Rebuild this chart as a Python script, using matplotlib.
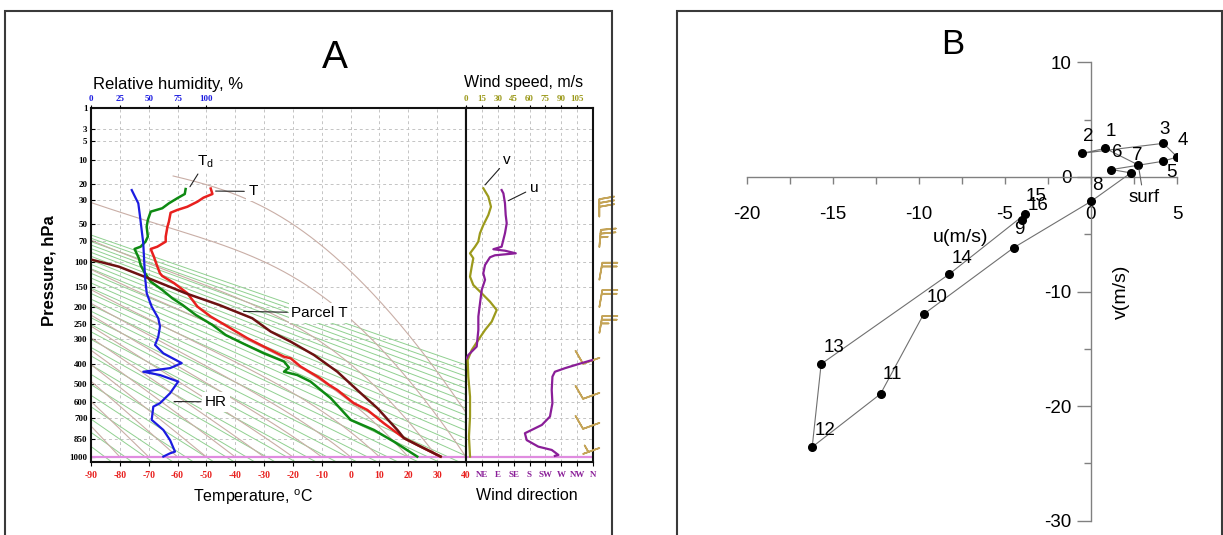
import numpy as np
import matplotlib
matplotlib.use('Agg')
import matplotlib.pyplot as plt
from matplotlib.patches import Rectangle
from matplotlib.ticker import FixedLocator, NullLocator

plt.rcParams['font.family'] = ['Liberation Sans', 'DejaVu Sans']
plt.rcParams['mathtext.fontset'] = 'custom'
plt.rcParams['mathtext.rm'] = 'Liberation Sans'
plt.rcParams['mathtext.it'] = 'Liberation Sans:italic'
plt.rcParams['axes.unicode_minus'] = False

# ------------------------- Panel A data -------------------------
p_ticks = [1, 3, 5, 10, 20, 30, 50, 70, 100, 150, 200, 250, 300, 400, 500, 600, 700, 850, 1000]
t_ticks = list(range(-90, 41, 10))
rh_ticks = [0, 25, 50, 75, 100]
ws_ticks = [0, 15, 30, 45, 60, 75, 90, 105]
wd_ticks = [45, 90, 135, 180, 225, 270, 315, 360]
wd_labels = ['NE', 'E', 'SE', 'S', 'SW', 'W', 'NW', 'N']

temp_p = [22.4, 25.7, 28.1, 30.9, 34.7, 37.3, 39.6, 47.9, 53.0, 64.3, 70.6, 77.4, 80.6, 92.2,
          105.9, 121, 126.3, 141, 163.7, 197.7, 226, 263, 297.5, 329, 370, 377, 414, 466, 504,
          532, 608, 650, 738, 847, 914, 997]
temp_t = [-48.5, -47.9, -51.0, -53.1, -56.6, -60.1, -62.4, -63.0, -63.5, -64.1, -64.1, -67.0,
          -69.3, -68.2, -67.2, -66.1, -65.3, -61.2, -56.6, -53.1, -48.5, -41.6, -35.8, -30.1,
          -23.1, -20.8, -17.3, -11.0, -7.5, -4.6, 1.1, 5.8, 11.5, 18.5, 24.3, 31.2]

dew_p = [22.7, 25.7, 28.5, 32.1, 35.9, 38.7, 46.2, 53.0, 64.3, 70.6, 77.4, 80.6, 87.0, 94.7,
         105.9, 118, 137.8, 156, 176, 193, 221, 252, 286, 316, 356, 391, 418, 438, 454, 487,
         578, 715, 786, 874, 997]
dew_t = [-57.2, -57.5, -60.1, -63.0, -65.3, -69.3, -70.3, -70.7, -70.3, -71.1, -72.8, -74.9,
         -74.2, -73.4, -72.8, -71.6, -69.3, -65.3, -61.8, -58.3, -53.7, -47.9, -43.3, -37.5,
         -30.1, -23.1, -21.4, -23.1, -18.5, -13.9, -6.9, 0.0, 8.1, 15.0, 23.1]

parcel_p = [97.5, 108.9, 134, 163.7, 193, 231, 274, 310, 363, 438, 532, 639, 786, 847, 900, 997]
parcel_t = [-89.4, -80.3, -68.7, -57.2, -45.6, -34.1, -27.7, -20.8, -12.7, -4.6, 2.3, 9.3,
            16.2, 18.5, 23.1, 31.2]

rh_p = [23.3, 27.4, 32.1, 43.1, 56.6, 72.8, 92.2, 127.6, 163.7, 197.7, 231, 257, 292, 323, 356,
        398, 421, 438, 454, 487, 550, 608, 629, 715, 786, 862, 955, 969, 997]
rh_v = [35.3, 38.1, 41.0, 42.5, 43.9, 45.3, 45.9, 46.8, 48.3, 52.6, 58.3, 59.8, 58.3, 55.5,
        62.7, 78.6, 68.5, 45.3, 59.8, 75.6, 68.5, 59.8, 54.0, 52.6, 62.7, 68.5, 72.8, 68.5, 62.7]

wspd_p = [22.3, 27.4, 34.7, 41.6, 51.2, 60.3, 70.6, 77.4, 87.0, 94.7, 108.9, 127.6, 145, 163.7,
          184.6, 207, 241.5, 268.5, 304, 342.5, 384, 462, 569, 693, 836, 997]
wspd = [16.4, 21.1, 23.6, 21.1, 16.4, 13.2, 11.6, 8.5, 3.8, 6.9, 5.4, 3.8, 6.9, 14.8, 22.7,
        29.0, 24.3, 18.0, 11.6, 5.4, 1.6, 2.2, 3.8, 3.8, 2.8, 3.8]

wdir_up_p = [23.3, 25.3, 32.1, 41.6, 49.5, 60.3, 68.5, 77.4, 81.0, 83.1, 87.0, 90.0, 93.1,
             105.9, 121, 134, 156, 188.7, 226, 268.5, 329, 363, 377]
wdir_up = [101, 106, 110.5, 112.5, 115.4, 110.5, 105.7, 101, 77.5, 110.5, 141, 82, 68, 54, 49,
           54, 44.5, 39.7, 35, 35, 30.3, 6.5, 2]
wdir_lo_p = [384, 398, 421, 438, 462, 532, 608, 693, 750, 786, 810, 862, 914, 941, 983, 991]
wdir_lo = [359, 328, 281, 252, 245, 243, 245, 238, 215, 186, 167, 172, 205, 243, 262, 252]

barb_p = [43, 78, 134, 199, 279, 375, 548, 736, 925]
barb_spd = [30, 25, 20, 20, 25, 10, 10, 10, 5]
barb_dir = [0, 5, 10, 10, 10, 250, 250, 250, 250]

# ------------------------- Panel B data -------------------------
hodo_lab = ['surf', '1', '2', '3', '4', '5', '6', '7', '8', '9', '10', '11', '12', '13', '14', '15', '16']
hodo_u = [2.75, 0.83, -0.50, 4.21, 5.01, 4.17, 1.19, 2.32, 0.0, -4.48, -9.73, -12.23, -16.2,
          -15.68, -8.26, -3.82, -4.02]
hodo_v = [1.04, 2.49, 2.06, 2.93, 1.74, 1.36, 0.64, 0.35, -2.14, -6.17, -11.99, -18.94, -23.57,
          -16.33, -8.51, -3.24, -3.76]

# ------------------------- figure -------------------------
W, H = 1223, 535
fig = plt.figure(figsize=(W / 100, H / 100), dpi=100)

def fx(px):
    return px / W

def fy(py):
    return 1 - py / H

def box(x0, y0, x1, y1):
    return [fx(x0), fy(y1), fx(x1) - fx(x0), fy(y0) - fy(y1)]

KAP = 0.286
fwd = lambda p: np.power(np.clip(p, 1e-9, None), KAP)
inv = lambda y: np.power(np.clip(y, 1e-9, None), 1 / KAP)

RED = '#e8201e'
BLUE = '#1c1ce0'
OLIVE = '#9c9a1c'
PURP = '#8a1e98'

def serif_labels(labels):
    for lb in labels:
        lb.set_fontfamily('Liberation Serif')
        lb.set_fontweight('bold')

ax_T = fig.add_axes(box(91, 108, 466, 461.5))
ax_T.set_yscale('function', functions=(fwd, inv))
ax_T.set_ylim(1040, 1)
ax_T.set_xlim(-90, 40)

ax_W = fig.add_axes(box(466, 108, 593, 461.5), sharey=ax_T)
ax_W.set_xlim(0, 120)

ax_RH = ax_T.twiny()
ax_D = ax_W.twiny()

for ax in (ax_T, ax_W):
    ax.set_axisbelow(True)
    ax.grid(True, color='#c4c4c4', linestyle=(0, (3, 3)), linewidth=0.7)
    ax.yaxis.set_minor_locator(NullLocator())
    for s in ax.spines.values():
        s.set_linewidth(1.5)
        s.set_color('#111111')

ax_T.set_yticks(p_ticks)
ax_T.set_yticklabels([str(v) for v in p_ticks])
ax_T.tick_params(axis='y', direction='in', length=3, pad=2.5, labelsize=6.5)
serif_labels(ax_T.get_yticklabels())

ax_T.set_xticks(t_ticks)
ax_T.set_xticklabels([str(v) for v in t_ticks])
ax_T.tick_params(axis='x', direction='out', length=3, pad=3.5, labelsize=7, labelcolor=RED,
                 bottom=True, labelbottom=True, top=False, labeltop=False)
serif_labels(ax_T.get_xticklabels())

ax_RH.set_xlim(0, 325)
ax_RH.set_xticks(rh_ticks)
ax_RH.set_xticklabels([str(v) for v in rh_ticks])
ax_RH.tick_params(axis='x', direction='out', length=2, pad=1.5, labelsize=6.5, labelcolor=BLUE,
                  bottom=False, labelbottom=False, top=True, labeltop=True)
serif_labels(ax_RH.get_xticklabels())
for s in ax_RH.spines.values():
    s.set_visible(False)

ax_W.set_xticks(ws_ticks)
ax_W.set_xticklabels([str(v) for v in ws_ticks])
ax_W.tick_params(axis='x', direction='out', length=2, pad=1.5, labelsize=6.5, labelcolor=OLIVE,
                 top=True, labeltop=True, bottom=False, labelbottom=False)
serif_labels(ax_W.get_xticklabels())
ax_W.tick_params(axis='y', left=False, labelleft=False)

ax_D.set_xlim(0, 360)
ax_D.set_xticks(wd_ticks)
ax_D.set_xticklabels(wd_labels)
ax_D.tick_params(axis='x', direction='out', length=3, pad=3.5, labelsize=6.5, labelcolor=PURP,
                 top=False, labeltop=False, bottom=True, labelbottom=True)
serif_labels(ax_D.get_xticklabels())
for s in ax_D.spines.values():
    s.set_visible(False)

# ---- thermodynamic background ----
pp = np.geomspace(1040, 1, 400)
for th in np.arange(181, 406, 7):
    ax_T.plot(th * (pp / 1000.0) ** KAP - 273.15, pp, color='#90d090', lw=0.7, zorder=1)

def t_std(p):
    return np.where(p >= 226.32, 288.15 * (p / 1013.25) ** 0.19026, 216.65)

def moist_adiabat(t0c, plev):
    Rd, Cp, Lv, eps = 287.04, 1005.7, 2.501e6, 0.622
    def f(T, p):
        es = 6.112 * np.exp(17.67 * (T - 273.15) / (T - 29.65))
        rs = eps * es / np.maximum(p - es, 1e-3)
        g = (Rd * T + Lv * rs) / (Cp + Lv ** 2 * rs * eps / (Rd * T ** 2)) / p
        return g * min(1.0, T / float(t_std(p)))
    T = t0c + 273.15
    out = [T]
    for i in range(1, len(plev)):
        p0, p1 = plev[i - 1], plev[i]
        h = p1 - p0
        k1 = f(T, p0); k2 = f(T + h / 2 * k1, p0 + h / 2)
        k3 = f(T + h / 2 * k2, p0 + h / 2); k4 = f(T + h * k3, p1)
        T = T + h / 6 * (k1 + 2 * k2 + 2 * k3 + k4)
        out.append(T)
    return np.array(out) - 273.15

pm = np.geomspace(1000, 16, 400)
for tw in range(-80, 51, 10):
    ax_T.plot(moist_adiabat(tw, pm), pm, color='#c9aea6', lw=0.8, zorder=1.2)

for ax in (ax_T, ax_W):
    ax.axhline(1000, color='#e08ce0', lw=1.6, zorder=2)

# ---- soundings ----
ax_RH.plot(rh_v, rh_p, color=BLUE, lw=1.6, zorder=4)
ax_T.plot(dew_t, dew_p, color='#0e8a12', lw=1.8, zorder=4)
ax_T.plot(temp_t, temp_p, color=RED, lw=1.8, zorder=4)
ax_T.plot(parcel_t, parcel_p, color='#6e1212', lw=1.8, zorder=5)
ax_W.plot(wspd, wspd_p, color=OLIVE, lw=1.6, zorder=4)
ax_D.plot(wdir_up, wdir_up_p, color=PURP, lw=1.6, zorder=4)
ax_D.plot(wdir_lo, wdir_lo_p, color=PURP, lw=1.6, zorder=4)
ax_RH.set_zorder(ax_T.get_zorder() + 0.1)
ax_RH.patch.set_visible(False)

bd = np.radians(barb_dir)
bu = -np.array(barb_spd) * np.sin(bd)
bv = -np.array(barb_spd) * np.cos(bd)
ax_W.barbs(np.full(len(barb_p), 126.0), barb_p, bu, bv, length=5,
           sizes=dict(spacing=0.22, height=0.85, width=0.3), color='#c4a458',
           linewidth=1.2, clip_on=False, zorder=6)

# ---- annotations ----
wbox = dict(facecolor='white', edgecolor='none', pad=2)
lead = dict(arrowstyle='-', color='#222222', lw=0.8, shrinkA=1, shrinkB=0)
ax_T.annotate('T$_{\\rm d}$', xy=(-55.7, 21.4), xytext=(-50.3, 10.5), fontsize=11,
              ha='center', va='center', bbox=wbox, arrowprops=lead, zorder=8)
ax_T.annotate('T', xy=(-46.8, 23.9), xytext=(-33.8, 24.1), fontsize=11,
              ha='center', va='center', bbox=wbox, arrowprops=lead, zorder=8)
ax_T.annotate('Parcel T', xy=(-37.1, 211), xytext=(-10.7, 215), fontsize=11,
              ha='center', va='center', bbox=wbox, arrowprops=lead, zorder=8)
ax_T.annotate('HR', xy=(-61.2, 598), xytext=(-46.6, 600), fontsize=11,
              ha='center', va='center', bbox=wbox, arrowprops=lead, zorder=8)
ax_W.annotate('v', xy=(18, 20.4), xytext=(38.8, 9.9), fontsize=11,
              ha='center', va='center', bbox=wbox, arrowprops=lead, zorder=8)
ax_W.annotate('u', xy=(40, 30.2), xytext=(64.3, 22.1), fontsize=11,
              ha='center', va='center', bbox=wbox, arrowprops=lead, zorder=8)

fig.text(fx(168), fy(85), 'Relative humidity, %', fontsize=12, ha='center', va='center')
fig.text(fx(524), fy(83), 'Wind speed, m/s', fontsize=11.5, ha='center', va='center')
fig.text(fx(49), fy(271), 'Pressure, hPa', fontsize=12, fontweight='bold', rotation=90,
         ha='center', va='center')
fig.text(fx(253), fy(497), 'Temperature, $^{\\rm o}$C', fontsize=11.5, ha='center', va='center')
fig.text(fx(527), fy(496), 'Wind direction', fontsize=11.5, ha='center', va='center')
fig.text(fx(335), fy(58), 'A', fontsize=28, ha='center', va='center')

# ------------------------- Panel B -------------------------
ax_B = fig.add_axes(box(746.8, 62.3, 1177, 520.7))
ax_B.set_xlim(-20, 5)
ax_B.set_ylim(-30, 10)
ax_B.patch.set_visible(False)
GR = '#808080'
for side in ('top', 'right'):
    ax_B.spines[side].set_visible(False)
for side in ('left', 'bottom'):
    ax_B.spines[side].set_position(('data', 0))
    ax_B.spines[side].set_color(GR)
    ax_B.spines[side].set_linewidth(1.0)
ax_B.set_xticks([-20, -15, -10, -5, 0, 5])
ax_B.xaxis.set_minor_locator(FixedLocator([-17.5, -12.5, -7.5, -2.5, 2.5]))
ax_B.set_yticks([10, 0, -10, -20, -30])
ax_B.yaxis.set_minor_locator(FixedLocator([5, -5, -15, -25]))
ax_B.tick_params(axis='x', which='both', direction='out', length=5, width=1, color=GR,
                 labelsize=13.5, pad=16)
ax_B.tick_params(axis='y', which='major', direction='out', length=10, width=1, color=GR,
                 labelsize=13.5, pad=4)
ax_B.tick_params(axis='y', which='minor', direction='out', length=5, width=1, color=GR)

ax_B.plot(hodo_u, hodo_v, color='#707070', lw=0.8, marker='o', ms=5.5, mfc='black',
          mec='black', zorder=3)

lab_off = {'1': (5.5, 17), '2': (6, 17), '3': (1, 14), '4': (6, 16), '5': (9, -11),
           '6': (6, 17), '7': (6, 17), '8': (6, 16), '9': (5, 18), '10': (14, 17),
           '11': (12, 19), '12': (13, 17), '13': (13, 17), '14': (13, 16), '15': (11, 18),
           '16': (16, 14)}
for lab, u, v in zip(hodo_lab, hodo_u, hodo_v):
    if lab == 'surf':
        ax_B.annotate(lab, xy=(u, v), xytext=(5.4, -32.6), textcoords='offset pixels',
                      fontsize=13.5, ha='center', va='center',
                      arrowprops=dict(arrowstyle='-', color='#606060', lw=0.8,
                                      shrinkA=1, shrinkB=3), zorder=4)
    else:
        ax_B.annotate(lab, xy=(u, v), xytext=lab_off[lab], textcoords='offset pixels',
                      fontsize=13.5, ha='center', va='center', zorder=4)

fig.text(fx(961), fy(237), 'u(m/s)', fontsize=14, ha='center', va='center')
fig.text(fx(1121), fy(292), 'v(m/s)', fontsize=14, rotation=90, ha='center', va='center')
fig.text(fx(953), fy(45), 'B', fontsize=25, ha='center', va='center')

for (x0, x1) in ((5, 612), (677, 1222)):
    fig.add_artist(Rectangle((fx(x0), fy(600)), fx(x1) - fx(x0), fy(11) - fy(600),
                             transform=fig.transFigure, fill=False, edgecolor='#3a3a3a',
                             lw=1.5, clip_on=False))

fig.savefig('out.png', dpi=100)
